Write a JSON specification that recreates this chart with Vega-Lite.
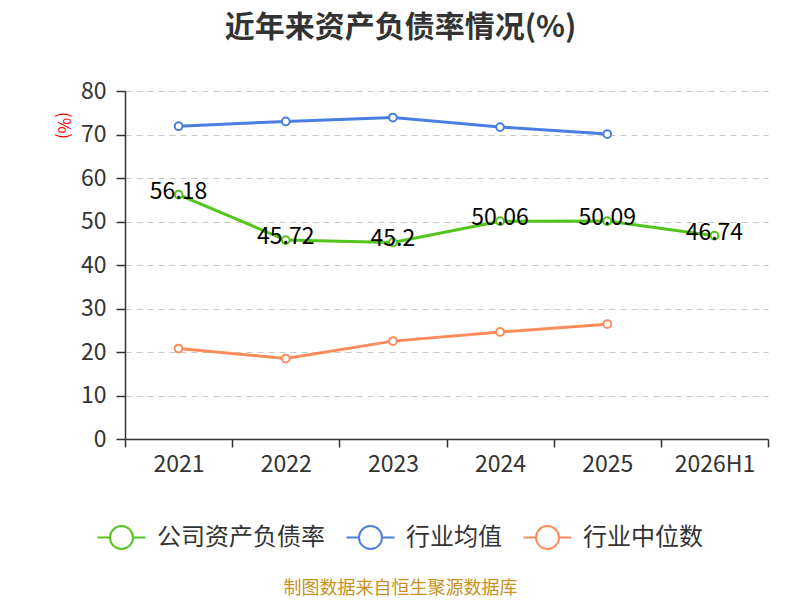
{
  "$schema": "https://vega.github.io/schema/vega-lite/v6.json",
  "autosize": "none",
  "width": 643,
  "height": 348,
  "padding": {"left": 125, "top": 91, "right": 32, "bottom": 161},
  "background": "white",
  "title": {
    "text": "近年来资产负债率情况(%)",
    "fontSize": 30,
    "fontWeight": "bold",
    "color": "#333333",
    "font": "Noto Sans CJK SC",
    "anchor": "middle",
    "dx": -46,
    "offset": 37
  },
  "config": {
    "font": "Noto Sans CJK SC",
    "view": {"stroke": null}
  },
  "data": {
    "values": [
      {"year": "2021", "series": "公司资产负债率", "value": 56.18},
      {"year": "2022", "series": "公司资产负债率", "value": 45.72},
      {"year": "2023", "series": "公司资产负债率", "value": 45.2},
      {"year": "2024", "series": "公司资产负债率", "value": 50.06},
      {"year": "2025", "series": "公司资产负债率", "value": 50.09},
      {"year": "2026H1", "series": "公司资产负债率", "value": 46.74},
      {"year": "2021", "series": "行业均值", "value": 71.9},
      {"year": "2022", "series": "行业均值", "value": 73.0},
      {"year": "2023", "series": "行业均值", "value": 73.9},
      {"year": "2024", "series": "行业均值", "value": 71.7},
      {"year": "2025", "series": "行业均值", "value": 70.1},
      {"year": "2021", "series": "行业中位数", "value": 20.8},
      {"year": "2022", "series": "行业中位数", "value": 18.5},
      {"year": "2023", "series": "行业中位数", "value": 22.5},
      {"year": "2024", "series": "行业中位数", "value": 24.6},
      {"year": "2025", "series": "行业中位数", "value": 26.4}
    ]
  },
  "encoding": {
    "x": {
      "field": "year",
      "type": "ordinal",
      "scale": {"paddingInner": 0, "paddingOuter": 0},
      "axis": {
        "title": "制图数据来自恒生聚源数据库",
        "titleColor": "#c8911e",
        "titleFontSize": 18,
        "titleFontWeight": "normal",
        "titleX": 275,
        "titleY": 149,
        "titleAlign": "center",
        "titleBaseline": "middle",
        "labelAngle": 0,
        "labelFontSize": 23,
        "labelColor": "#333333",
        "labelPadding": 6,
        "domainColor": "#333333",
        "domainWidth": 1.5,
        "tickColor": "#333333",
        "tickBand": "extent",
        "tickSize": 8,
        "tickWidth": 1.5,
        "grid": false
      }
    },
    "y": {
      "field": "value",
      "type": "quantitative",
      "scale": {"domain": [0, 80]},
      "axis": {
        "title": "(%)",
        "titleColor": "#ff0000",
        "titleFontSize": 17,
        "titleFontWeight": "normal",
        "titleAngle": 90,
        "titleX": -63,
        "titleY": 34,
        "titleAlign": "center",
        "titleBaseline": "middle",
        "tickCount": 8,
        "labelFontSize": 23,
        "labelColor": "#333333",
        "labelPadding": 10,
        "domainColor": "#333333",
        "domainWidth": 1.5,
        "tickColor": "#333333",
        "tickSize": 9,
        "tickWidth": 1.5,
        "gridColor": "#c8c8c8",
        "gridDash": [6, 5],
        "gridWidth": 1.2
      }
    },
    "color": {
      "field": "series",
      "type": "nominal",
      "scale": {
        "domain": ["公司资产负债率", "行业均值", "行业中位数"],
        "range": ["#52c41a", "#4a7ee0", "#fd8c5a"]
      },
      "legend": {
        "title": null,
        "orient": "none",
        "direction": "horizontal",
        "legendX": -17,
        "legendY": 433,
        "labelFontSize": 24,
        "labelColor": "#333333",
        "labelLimit": 0,
        "labelOffset": 22,
        "columnPadding": 17,
        "symbolType": "M -1.92 0 L -0.92 0 M 0.92 0 L 1.92 0 M 0.92 0 A 0.92 0.92 0 1 0 -0.92 0 A 0.92 0.92 0 1 0 0.92 0",
        "symbolSize": 625,
        "symbolStrokeWidth": 2,
        "encode": {
          "symbols": {"update": {"fill": {"value": "white"}, "strokeWidth": {"value": 2}}}
        }
      }
    }
  },
  "layer": [
    {
      "mark": {"type": "line", "strokeWidth": 3}
    },
    {
      "mark": {"type": "point", "filled": false, "fill": "white", "fillOpacity": 1, "size": 60, "strokeWidth": 2, "opacity": 1}
    },
    {
      "transform": [{"filter": "datum.series == '公司资产负债率'"}],
      "mark": {"type": "text", "fontSize": 23, "dy": -3, "baseline": "middle"},
      "encoding": {
        "text": {"field": "value", "type": "quantitative"},
        "color": {"value": "black"}
      }
    }
  ]
}
